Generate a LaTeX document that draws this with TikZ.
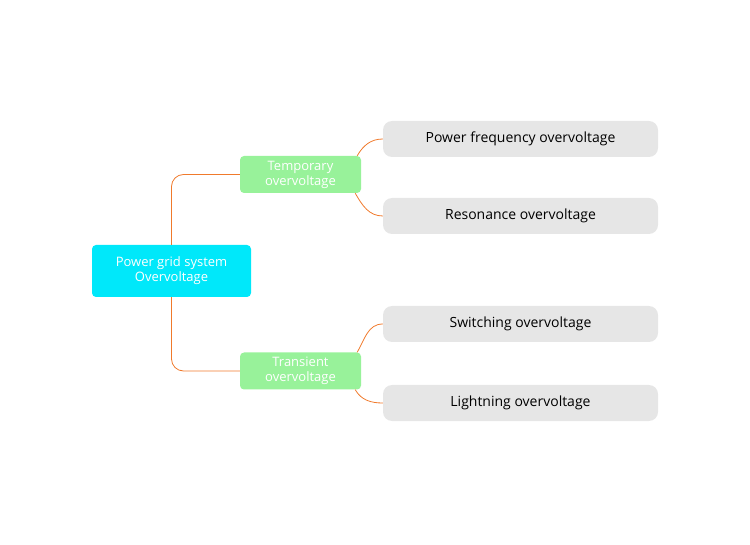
\documentclass[tikz,border=0pt]{standalone}
\usepackage{fontspec}
\setmainfont{Open Sans}
\usetikzlibrary{positioning}
\definecolor{rootC}{HTML}{00E8FA}
\definecolor{midC}{HTML}{98F29A}
\definecolor{leafC}{HTML}{E6E6E6}
\definecolor{lineC}{HTML}{F07A2C}
\begin{document}
\begin{tikzpicture}[x=1pt,y=-1pt]

    % Styles
    \tikzset{rootN/.style={fill=rootC, rounded corners=4pt, minimum width=159pt, minimum height=52pt, text=white, font=\fontsize{13}{15}\selectfont, align=center, inner sep=0pt}}
    \tikzset{midN/.style={fill=midC, rounded corners=4pt, minimum width=121pt, minimum height=37pt, text=white, font=\fontsize{13}{15}\selectfont, align=center, inner sep=0pt}}
    \tikzset{leafN/.style={fill=leafC, rounded corners=9pt, minimum width=275pt, minimum height=36pt, text=black, font=\fontsize{14}{16}\selectfont, inner sep=0pt}}
    \tikzset{link/.style={draw=lineC, thick}}

    \useasboundingbox (0,0) rectangle (750,545);

    % Nodes
    \node (root) [rootN] at (171.5, 271) {Power grid system\\Overvoltage};
    	\node (temp) [midN] at (300.5, 174.5) {Temporary\\overvoltage};
    		\node (pf) [leafN] at (520.5, 139) {Power frequency overvoltage};
    		\node (res) [leafN] at (520.5, 216) {Resonance overvoltage};
    	\node (tran) [midN] at (300.5, 371) {Transient\\overvoltage};
    		\node (sw) [leafN] at (520.5, 324) {Switching overvoltage};
    		\node (li) [leafN] at (520.5, 403) {Lightning overvoltage};

    % Connectors
    \path[link, rounded corners=12pt] (root.north) |- (temp.west);
    \path[link, rounded corners=12pt] (root.south) |- (tran.west);
    \path[link] ([xshift=-4pt]temp.north east) to[out=-60+120,in=180] (pf.west);
    \path[link] ([xshift=-6pt]temp.south east) to[out=-60,in=180] (res.west);
    \path[link] ([xshift=-4pt]tran.north east) to[out=60,in=180] (sw.west);
    \path[link] ([xshift=-6pt]tran.south east) to[out=-60,in=180] (li.west);

\end{tikzpicture}
\end{document}
